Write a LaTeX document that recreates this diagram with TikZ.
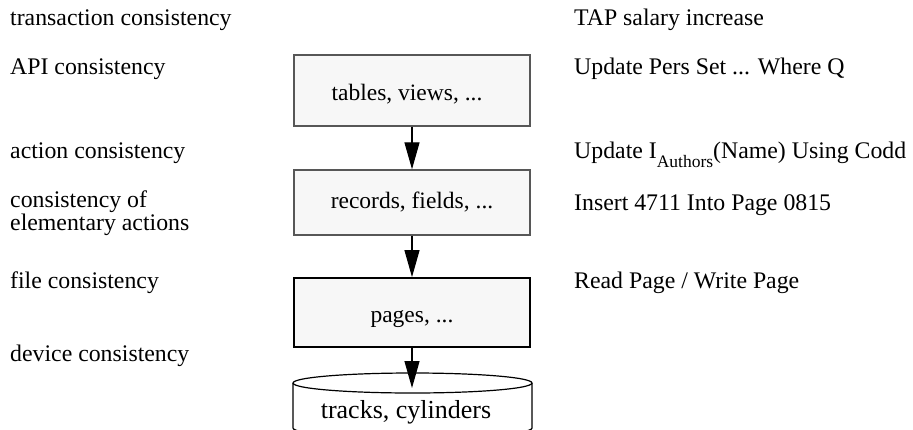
\documentclass[tikz,border=0pt]{standalone}
\usepackage{fontspec}
\setmainfont{Liberation Serif}
\usetikzlibrary{arrows.meta}
\begin{document}
\begin{tikzpicture}[x=1pt,y=-1pt,
  lbl/.style={anchor=base west,inner sep=0pt,font=\fontsize{23.8}{20}\selectfont,align=left},
  layerbox/.style={draw=black!66,line width=1.4pt,fill=black!3,minimum width=236pt,inner sep=0pt},
  conn/.style={line width=1.2pt,-{Triangle[length=27pt,width=15pt]}},
  boxtxt/.style={font=\fontsize{23.5}{28}\selectfont}]
\useasboundingbox (0,0) rectangle (913,429);
\clip (0,0) rectangle (913,429);
% left labels
\node[lbl] (l1) at (10,25) {transaction consistency};
\node[lbl] (l2) at (10,74) {API consistency};
\node[lbl] (l3) at (10,158) {action consistency};
\node[lbl] (l4) at (10,230) {consistency of\\elementary actions};
\node[lbl] (l5) at (10,288) {file consistency};
\node[lbl] (l6) at (10,361) {device consistency};
% right labels
\node[lbl] (r1) at (574,25) {TAP salary increase};
\node[lbl] (r2) at (574,74) {Update Pers Set ... Where Q};
\node[lbl] (r3) at (574,158) {Update I\raisebox{-0.4em}{\fontsize{17.5}{17.5}\selectfont Authors}(Name) Using Codd};
\node[lbl] (r4) at (574,210) {Insert 4711 Into Page 0815};
\node[lbl] (r5) at (574,288) {Read Page / Write Page};
% boxes
\node[layerbox,minimum height=71pt] (b1) at (412,90.5) {};
\node[boxtxt,anchor=base,inner sep=0pt] (t1) at (407,100) {tables, views, ...};
\node[layerbox,minimum height=65pt] (b2) at (412,202.5) {};
\node[boxtxt,anchor=base,inner sep=0pt] (t2) at (412,208) {records, fields, ...};
\node[layerbox,draw=black,line width=1.8pt,minimum height=69pt] (b3) at (412,312.5) {};
\node[boxtxt,anchor=base,inner sep=0pt] (t3) at (412,322) {pages, ...};
% cylinder
\coordinate (cy) at (412.5,383);
\draw[line width=1.2pt,fill=white] (293,383) -- (293,428) arc[start angle=180,end angle=360,x radius=119.5pt,y radius=10pt] -- (532,383);
\draw[line width=1.2pt,fill=white] (cy) ellipse[x radius=119.5pt,y radius=10pt];
\node[anchor=base,inner sep=0pt,font=\fontsize{26}{30}\selectfont] (t4) at (406,418) {tracks, cylinders};
\coordinate (tip) at (412,388);
% connectors
\draw[conn] (b1.south) -- (b2.north);
\draw[conn] (b2.south) -- (b3.north);
\draw[conn] (b3.south) -- (tip);
\end{tikzpicture}
\end{document}
